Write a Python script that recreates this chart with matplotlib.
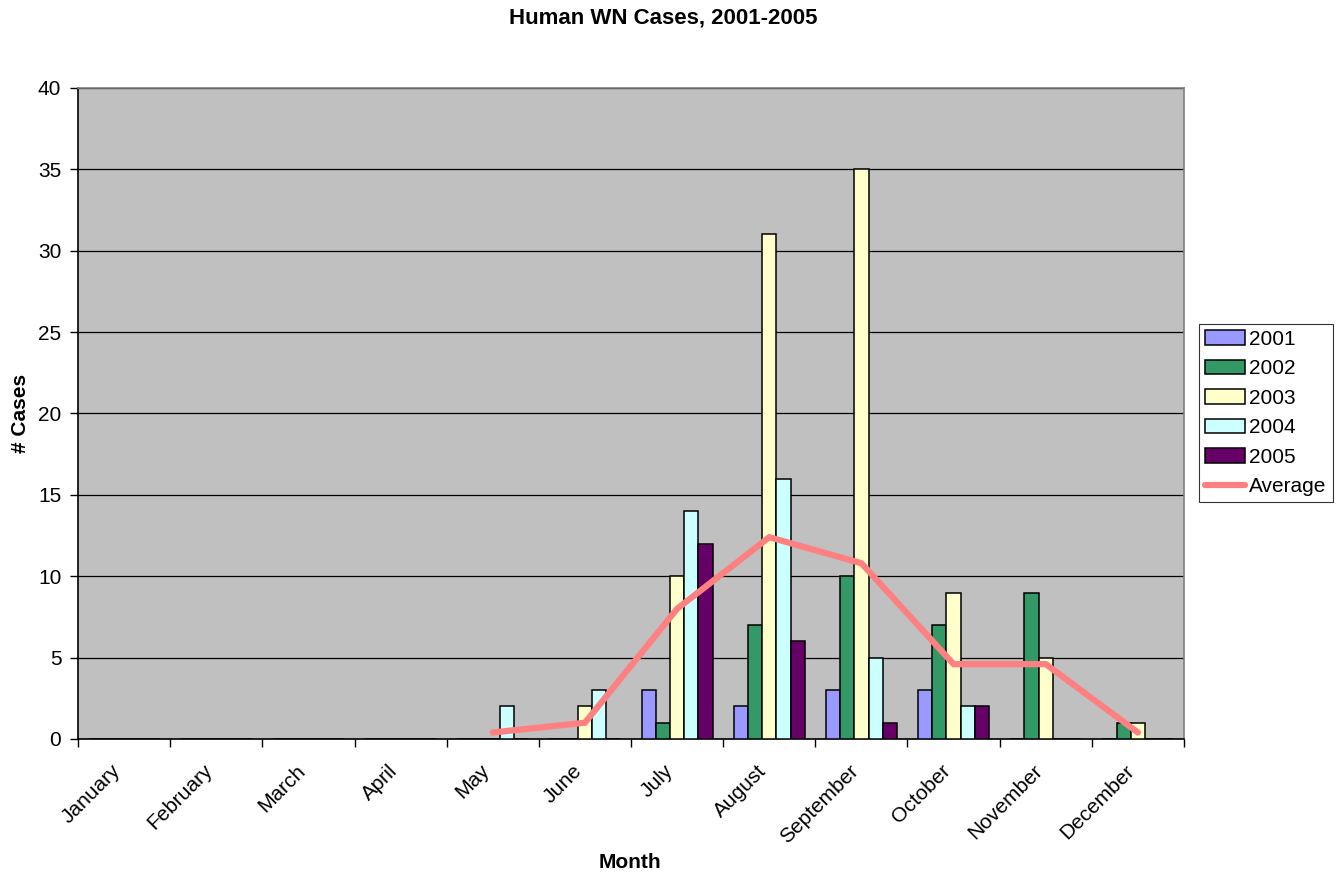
import numpy as np
import matplotlib.pyplot as plt
import matplotlib.transforms as mtransforms

plt.rcParams['font.family'] = ['Liberation Sans', 'DejaVu Sans']

months = ["January", "February", "March", "April", "May", "June", "July",
          "August", "September", "October", "November", "December"]
cases_2001 = [0, 0, 0, 0, 0, 0, 3, 2, 3, 3, 0, 0]
cases_2002 = [0, 0, 0, 0, 0, 0, 1, 7, 10, 7, 9, 1]
cases_2003 = [0, 0, 0, 0, 0, 2, 10, 31, 35, 9, 5, 1]
cases_2004 = [0, 0, 0, 0, 2, 3, 14, 16, 5, 2, 0, 0]
cases_2005 = [0, 0, 0, 0, 0, 0, 12, 6, 1, 2, 0, 0]
average = [np.nan, np.nan, np.nan, np.nan, 0.4, 1.0, 8.0, 12.4, 10.8, 4.6, 4.6, 0.4]

series = [("2001", cases_2001, "#9999FF"),
          ("2002", cases_2002, "#339966"),
          ("2003", cases_2003, "#FFFFCC"),
          ("2004", cases_2004, "#CCFFFF"),
          ("2005", cases_2005, "#660066")]

fig = plt.figure(figsize=(13.4, 8.75), dpi=100)
ax = fig.add_axes([78 / 1340, 1 - 739 / 875, (1184 - 78) / 1340, (739 - 88) / 875])
ax.set_facecolor("#C0C0C0")

centers = np.arange(len(months)) + 0.5
w = 1 / 6.5
for j, (name, vals, color) in enumerate(series):
    ax.bar(centers + (j - 2) * w, vals, width=w, color=color,
           edgecolor="black", linewidth=1.1, label=name, zorder=3)

ax.plot(centers, average, color="#FF8080", linewidth=4.5,
        solid_capstyle="round", solid_joinstyle="miter", label="Average", zorder=4)

ax.set_xlim(0, 12)
ax.set_ylim(0, 40)
ax.set_yticks(np.arange(0, 41, 5))
ax.yaxis.grid(True, color="black", linewidth=0.9)
ax.set_axisbelow(True)

# boundary ticks, month names placed as rotated text under each category
ax.set_xticks(np.arange(13))
ax.set_xticklabels([])
ax.tick_params(axis="x", length=6, width=1, direction="out")
ax.tick_params(axis="y", length=6, width=1, direction="out", labelsize=15, pad=6)

label_trans = ax.get_xaxis_transform() + mtransforms.ScaledTranslation(
    -13 / 100, -22 / 100, fig.dpi_scale_trans)
for c, m in zip(centers, months):
    ax.text(c, 0, m, transform=label_trans, rotation=45, rotation_mode="anchor",
            ha="right", va="top", fontsize=15)

for side in ["left", "bottom"]:
    ax.spines[side].set_color("black")
    ax.spines[side].set_linewidth(1.2)
for side in ["top", "right"]:
    ax.spines[side].set_color("#808080")
    ax.spines[side].set_linewidth(1.2)

ax.set_xlabel("Month", fontsize=15, fontweight="bold")
ax.xaxis.set_label_coords((630 - 78) / 1106, -(862 - 739) / 651)
ax.xaxis.label.set_va("center")
ax.set_ylabel("# Cases", fontsize=15, fontweight="bold")
ax.yaxis.set_label_coords((20 - 78) / 1106, (739 - 413) / 651)
ax.yaxis.label.set_va("center")
fig.text(663 / 1340, 1 - 18 / 875, "Human WN Cases, 2001-2005", fontsize=16,
         fontweight="bold", ha="center", va="center")

handles, labels = ax.get_legend_handles_labels()
order = [1, 2, 3, 4, 5, 0]
leg = ax.legend([handles[i] for i in order], [labels[i] for i in order],
                loc="center left", bbox_to_anchor=(1199 / 1340, 1 - 413 / 875),
                bbox_transform=fig.transFigure, fontsize=15, frameon=True,
                fancybox=False, edgecolor="black", borderpad=0.3,
                handlelength=1.9, handletextpad=0.2, labelspacing=0.5,
                borderaxespad=0)
leg.get_frame().set_linewidth(0.8)

fig.savefig("out.png", dpi=100)
